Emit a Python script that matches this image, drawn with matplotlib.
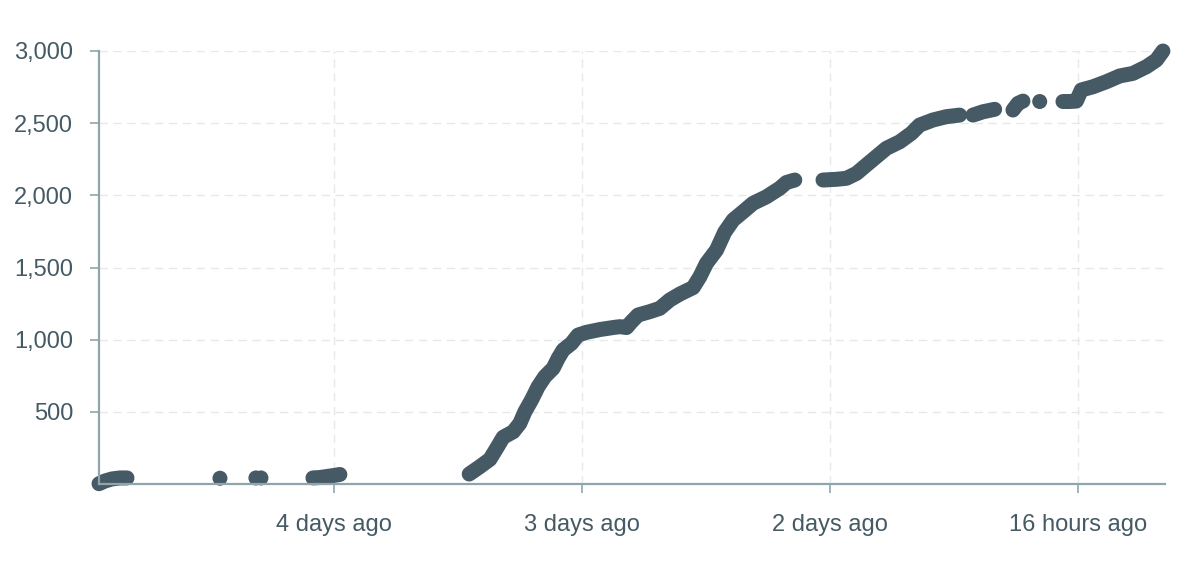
import numpy as np
import matplotlib
matplotlib.use("Agg")
import matplotlib.pyplot as plt

# hours since first record, cumulative count; segments separated by gaps
seg_a_hours = [0.0, 0.58, 1.26, 2.03, 2.71]
seg_a_vals = [2, 21, 35, 42, 42]

single_hours = [11.71, 15.19, 15.68, 91.07]
single_vals = [40, 42, 42, 2650]

seg_b_hours = [20.71, 21.39, 22.06, 22.74, 23.32]
seg_b_vals = [42, 45, 52, 59, 66]

seg_c_hours = [35.84, 36.87, 37.84, 38.49, 39.13, 40.10, 40.74, 41.23, 41.87, 42.51,
               43.16, 43.97, 44.45, 44.93, 45.75, 46.38, 47.20, 48.48, 49.77, 50.42,
               51.07, 51.55, 52.19, 53.32, 54.29, 55.26, 56.23, 57.52, 58.17, 58.81,
               59.78, 60.58, 61.39, 62.35, 63.32, 64.62, 65.90, 66.55, 67.36]
seg_c_vals = [69, 120, 171, 247, 324, 362, 420, 501, 582, 674,
              744, 802, 871, 928, 975, 1032, 1051, 1070, 1084, 1090,
              1084, 1124, 1171, 1194, 1217, 1275, 1316, 1361, 1436, 1529,
              1621, 1746, 1829, 1886, 1945, 1990, 2049, 2089, 2106]

seg_d_hours = [70.09, 71.39, 72.36, 73.33, 74.29, 75.26, 76.23, 77.52, 78.65, 79.45,
               80.74, 82.04, 83.32]
seg_d_vals = [2106, 2111, 2118, 2152, 2210, 2268, 2326, 2371, 2430, 2487,
              2522, 2545, 2556]

seg_e_hours = [84.61, 85.58, 86.71]
seg_e_vals = [2556, 2579, 2596]

seg_f_hours = [88.48, 88.97, 89.45]
seg_f_vals = [2591, 2637, 2653]

seg_g_hours = [93.32, 93.97, 94.62, 95.10, 96.22, 97.52, 98.81, 100.1, 101.4, 102.36, 103.0]
seg_g_vals = [2650, 2650, 2653, 2730, 2752, 2787, 2827, 2845, 2891, 2937, 3000]

x_tick_hours = [22.74, 46.74, 70.74, 94.74]
x_tick_labels = ["4 days ago", "3 days ago", "2 days ago", "16 hours ago"]
y_ticks = [500, 1000, 1500, 2000, 2500, 3000]

dot_color = "#455a64"
axis_color = "#90a4ae"
grid_color = "#e6e8ea"
text_color = "#455a64"

plt.rcParams['font.family'] = ['Liberation Sans', 'DejaVu Sans']

fig = plt.figure(figsize=(12, 5.67), dpi=100)
ax = fig.add_axes([99 / 1200, 1 - 484 / 567, (1165 - 99) / 1200, (484 - 51) / 567])

segments = [(seg_a_hours, seg_a_vals), (seg_b_hours, seg_b_vals), (seg_c_hours, seg_c_vals),
            (seg_d_hours, seg_d_vals), (seg_e_hours, seg_e_vals), (seg_f_hours, seg_f_vals),
            (seg_g_hours, seg_g_vals)]
lw = 10.8
for hx, hv in segments:
    ax.plot(hx, hv, color=dot_color, lw=lw, solid_capstyle='round', solid_joinstyle='round',
            clip_on=False, zorder=3)
ax.scatter(single_hours, single_vals, s=lw ** 2, color=dot_color, edgecolors='none',
           clip_on=False, zorder=3)

ax.set_xlim(0, 103.2)
ax.set_ylim(0, 3000)
ax.set_xticks(x_tick_hours)
ax.set_xticklabels(x_tick_labels)
ax.set_yticks(y_ticks)
ax.set_yticklabels([f"{v:,}" for v in y_ticks])

for s in ['top', 'right']:
    ax.spines[s].set_visible(False)
for s in ['left', 'bottom']:
    ax.spines[s].set_color(axis_color)
    ax.spines[s].set_linewidth(1.6)
    ax.spines[s].set_zorder(4)

ax.tick_params(axis='both', colors=axis_color, labelcolor=text_color, labelsize=17,
               width=1.2, length=6.5)
ax.tick_params(axis='y', pad=12)
ax.tick_params(axis='x', pad=15)

ax.set_axisbelow(False)
ax.grid(True, color=grid_color, linestyle=(0, (6, 4)), linewidth=1.0, zorder=5)

fig.savefig("out.png", dpi=100, facecolor="white")
